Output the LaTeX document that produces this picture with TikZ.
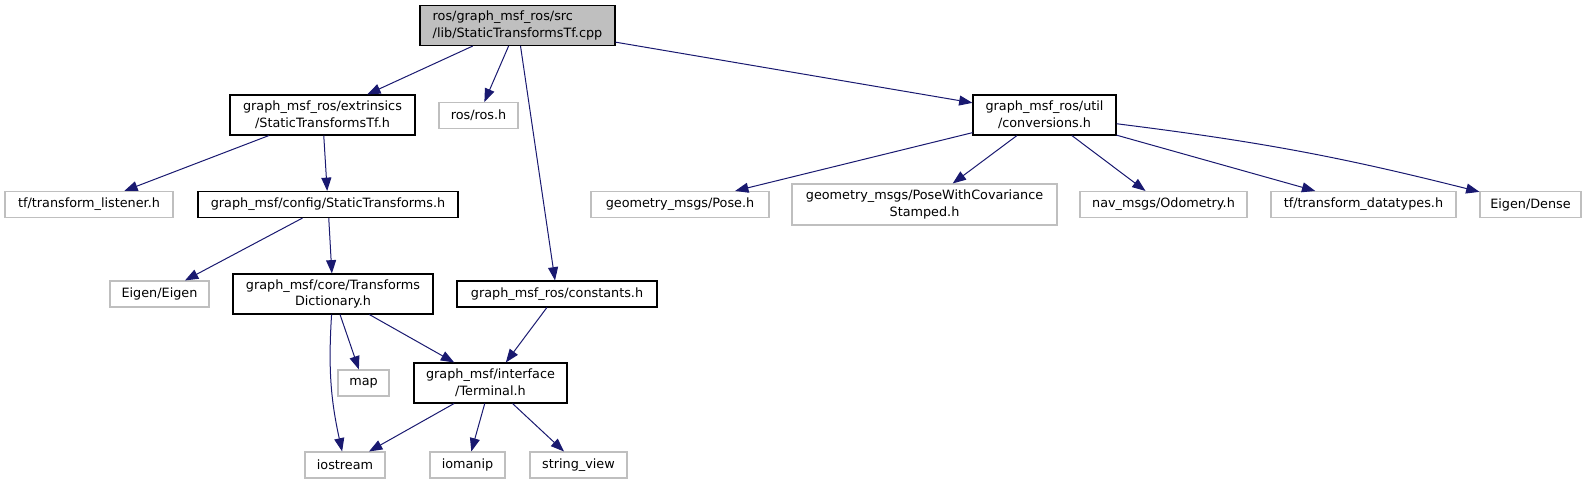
\documentclass[tikz,border=0pt]{standalone}
\usepackage{fontspec}
\setmainfont{DejaVu Sans}
\usepackage{xcolor}
\usepackage{tikz}
\usetikzlibrary{arrows.meta}

\definecolor{edgeblue}{HTML}{191970}
\definecolor{boxgray}{HTML}{BFBFBF}

\begin{document}
\begin{tikzpicture}[
    x=0.75pt, y=-0.75pt,
    font=\fontsize{9.6}{12.5}\selectfont,
    wd/.style={minimum width=#1*0.75pt},
    file/.style={draw=black, line width=0.8pt, fill=white, align=center,
                 inner xsep=2pt, inner ysep=1pt, minimum height=30pt},
    sys/.style={draw=boxgray, line width=0.8pt, fill=white, align=center,
                inner xsep=2pt, inner ysep=1pt, minimum height=19.5pt},
    root/.style={file, fill=boxgray, align=left},
    arr/.style={-{Triangle[length=10pt, width=7.5pt]}, draw=edgeblue,
                line width=0.75pt},
]
\useasboundingbox (0,0) rectangle (1590,484);

%% ── Row 0 : the source file ─────────────────────────────────────────────────
\node[root, wd=195] (cpp) at (517.5, 25.5)
    {ros/graph\_msf\_ros/src\\/lib/StaticTransformsTf.cpp};

%% ── Row 1 ───────────────────────────────────────────────────────────────────
\node[file, wd=185] (extr) at (322.5, 115)
    {graph\_msf\_ros/extrinsics\\/StaticTransformsTf.h};
\node[sys, wd=79]   (ros)  at (478.5, 115.5) {ros/ros.h};
\node[file, wd=143] (conv) at (1044.5, 115)
    {graph\_msf\_ros/util\\/conversions.h};

%% ── Row 2 ───────────────────────────────────────────────────────────────────
\node[sys, wd=168]  (tflis)  at (89, 204.5)   {tf/transform\_listener.h};
\node[file, wd=260, minimum height=19.5pt] (stat) at (328, 204.5)
    {graph\_msf/config/StaticTransforms.h};
\node[sys, wd=178]  (pose)   at (680, 204.5)  {geometry\_msgs/Pose.h};
\node[sys, wd=265, minimum height=30.75pt] (posecov) at (924.5, 204.5)
    {geometry\_msgs/PoseWithCovariance\\Stamped.h};
\node[sys, wd=167]  (odom)   at (1163.5, 204.5) {nav\_msgs/Odometry.h};
\node[sys, wd=185]  (tfdt)   at (1363.5, 204.5) {tf/transform\_datatypes.h};
\node[sys, wd=101]  (dense)  at (1530.5, 204.5) {Eigen/Dense};

%% ── Row 3 ───────────────────────────────────────────────────────────────────
\node[sys, wd=99]   (eigen)  at (159.5, 294) {Eigen/Eigen};
\node[file, wd=200] (dict)   at (333, 294)
    {graph\_msf/core/Transforms\\Dictionary.h};
\node[file, wd=200, minimum height=19.5pt] (const) at (557, 294)
    {graph\_msf\_ros/constants.h};

%% ── Row 4 ───────────────────────────────────────────────────────────────────
\node[sys, wd=51]   (map)    at (363.5, 383) {map};
\node[file, wd=153] (term)   at (490.5, 383)
    {graph\_msf/interface\\/Terminal.h};

%% ── Row 5 ───────────────────────────────────────────────────────────────────
\node[sys, wd=80]   (iostr)  at (345, 465)   {iostream};
\node[sys, wd=75]   (ioman)  at (467.5, 465) {iomanip};
\node[sys, wd=97]   (strv)   at (578.5, 465) {string\_view};

%% ── Includes of the source file ─────────────────────────────────────────────
\draw[arr] (cpp) -- (extr);
\draw[arr] (cpp) -- (ros);
\draw[arr] (cpp) -- (const);
\draw[arr] (cpp) -- (conv);

%% ── extrinsics / config ─────────────────────────────────────────────────────
\draw[arr] (extr) -- (tflis);
\draw[arr] (extr) -- (stat);
\draw[arr] (stat) -- (eigen);
\draw[arr] (stat) -- (dict);

%% ── core / interface ────────────────────────────────────────────────────────
\draw[arr] (dict) to[bend right=8] (iostr);
\draw[arr] (dict) -- (map);
\draw[arr] (dict) -- (term);
\draw[arr] (const) -- (term);
\draw[arr] (term) -- (iostr);
\draw[arr] (term) -- (ioman);
\draw[arr] (term) -- (strv);

%% ── util / conversions ──────────────────────────────────────────────────────
\draw[arr] (conv) -- (pose);
\draw[arr] (conv) -- (posecov);
\draw[arr] (conv) -- (odom);
\draw[arr] (conv) -- (tfdt);
\draw[arr] (conv) to[bend left=3.5] (dense);

\end{tikzpicture}
\end{document}
